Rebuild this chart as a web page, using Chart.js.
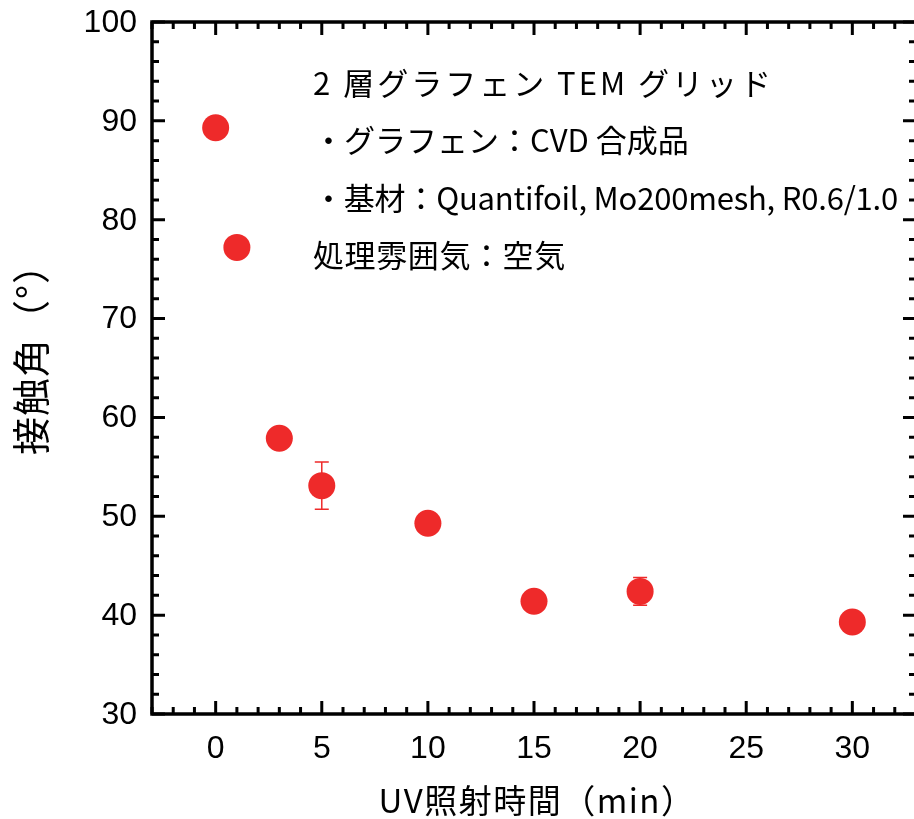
<!DOCTYPE html>
<html>
  <head>
    <meta charset="utf-8">
    <title>接触角 vs UV照射時間</title>
    <script src="https://cdn.jsdelivr.net/npm/chart.js"></script>
    <style>
      body { margin: 0; overflow: hidden; background: #fff; }
      .chartframe { position: relative; width: 918px; height: 819px; }
    </style>
  </head>
  <body>
    <div class="chartframe">
      <canvas id="myChart"></canvas>
    </div>
  </body>
</html>
<script>
//------------------------------------------------------------------------------
// data
//------------------------------------------------------------------------------
var uvTime = [0, 1, 3, 5, 10, 15, 20, 30];
var contactAngle = [89.3, 77.2, 57.9, 53.1, 49.3, 41.4, 42.4, 39.3];
var angleError = [0, 0, 0, 2.4, 0, 0, 1.4, 0];

var xTickLabels = [0, 5, 10, 15, 20, 25, 30];
var yTickLabels = [30, 40, 50, 60, 70, 80, 90, 100];

var xTitle = 'UV照射時間（min）';
var yTitle = '接触角（°）';
var noteLines = [
  '2 層グラフェン TEM グリッド',
  '・グラフェン：CVD 合成品',
  '・基材：Quantifoil, Mo200mesh, R0.6/1.0',
  '処理雰囲気：空気'
];
var noteSpacing = ['3px', '0px', '-0.2px', '0.6px'];

var red = 'rgb(238, 42, 42)';
var jpFont = '"Noto Sans CJK JP", sans-serif';
var numFont = '"Liberation Sans", Arial, sans-serif';

//------------------------------------------------------------------------------
// error bars, frame, inward ticks, labels, titles, note
//------------------------------------------------------------------------------
var framePlugin = {
  id: 'frame',
  beforeDatasetsDraw: function(chart) {
    var ctx = chart.ctx;
    var xs = chart.scales.x, ys = chart.scales.y;
    ctx.save();
    ctx.strokeStyle = red;
    ctx.lineWidth = 1.5;
    for (var i = 0; i < uvTime.length; i++) {
      if (!angleError[i]) continue;
      var px = xs.getPixelForValue(uvTime[i]);
      var top = ys.getPixelForValue(contactAngle[i] + angleError[i]);
      var bot = ys.getPixelForValue(contactAngle[i] - angleError[i]);
      ctx.beginPath();
      ctx.moveTo(px, top); ctx.lineTo(px, bot);
      ctx.moveTo(px - 7, top); ctx.lineTo(px + 7, top);
      ctx.moveTo(px - 7, bot); ctx.lineTo(px + 7, bot);
      ctx.stroke();
    }
    ctx.restore();
  },
  afterDraw: function(chart) {
    var ctx = chart.ctx;
    var a = chart.chartArea;
    var xs = chart.scales.x, ys = chart.scales.y;
    ctx.save();
    ctx.strokeStyle = '#000';
    ctx.lineWidth = 3.5;
    ctx.strokeRect(a.left, a.top, a.right - a.left, a.bottom - a.top);

    ctx.lineWidth = 3;
    ctx.beginPath();
    for (var v = Math.ceil(xs.min); v <= xs.max; v++) {
      var px = xs.getPixelForValue(v);
      var len = (v % 5 === 0) ? 13 : 7;
      ctx.moveTo(px, a.bottom); ctx.lineTo(px, a.bottom - len);
      ctx.moveTo(px, a.top); ctx.lineTo(px, a.top + len);
    }
    for (var w = ys.min; w <= ys.max; w += 2) {
      var py = ys.getPixelForValue(w);
      var len2 = (w % 10 === 0) ? 13 : 7;
      ctx.moveTo(a.left, py); ctx.lineTo(a.left + len2, py);
      ctx.moveTo(a.right, py); ctx.lineTo(a.right - len2, py);
    }
    ctx.stroke();

    // tick labels
    ctx.fillStyle = '#000';
    ctx.font = '32px ' + numFont;
    ctx.textBaseline = 'middle';
    ctx.textAlign = 'center';
    xTickLabels.forEach(function(t) {
      ctx.fillText(String(t), xs.getPixelForValue(t), a.bottom + 35);
    });
    ctx.textAlign = 'right';
    yTickLabels.forEach(function(t) {
      ctx.fillText(String(t), a.left - 15, ys.getPixelForValue(t) + 1);
    });

    // axis titles
    ctx.font = '33px ' + jpFont;
    ctx.textAlign = 'center';
    ctx.letterSpacing = '1.5px';
    ctx.fillText(xTitle, 537, 800);
    ctx.save();
    ctx.translate(31, 350);
    ctx.rotate(-Math.PI / 2);
    ctx.font = '38px ' + jpFont;
    ctx.letterSpacing = '1px';
    ctx.fillText(yTitle, 0, 0);
    ctx.restore();

    // note
    ctx.font = '31px ' + jpFont;
    ctx.textAlign = 'left';
    for (var k = 0; k < noteLines.length; k++) {
      ctx.letterSpacing = noteSpacing[k];
      ctx.fillText(noteLines[k], 313, 83 + k * 57.5);
    }
    ctx.restore();
  }
};

//------------------------------------------------------------------------------
// chart
//------------------------------------------------------------------------------
var ctx = document.getElementById('myChart').getContext('2d');
var chart = new Chart(ctx, {
  type: 'scatter',
  data: {
    datasets: [{
      label: '接触角',
      data: uvTime.map(function(t, i) { return { x: t, y: contactAngle[i] }; }),
      backgroundColor: red,
      borderColor: red,
      borderWidth: 0,
      pointRadius: 13.5,
      pointHoverRadius: 13.5
    }]
  },
  options: {
    responsive: true,
    maintainAspectRatio: false,
    animation: false,
    layout: { autoPadding: false, padding: { top: 22, right: 2, left: 0, bottom: 0 } },
    plugins: {
      legend: { display: false },
      tooltip: { enabled: false }
    },
    scales: {
      x: {
        type: 'linear',
        min: -3,
        max: 33,
        afterFit: function(scale) { scale.height = 105; },
        grid: { display: false, drawTicks: false },
        border: { display: false },
        ticks: { display: false }
      },
      y: {
        type: 'linear',
        min: 30,
        max: 100,
        afterFit: function(scale) { scale.width = 152; },
        grid: { display: false, drawTicks: false },
        border: { display: false },
        ticks: { display: false }
      }
    }
  },
  plugins: [framePlugin]
});
</script>
